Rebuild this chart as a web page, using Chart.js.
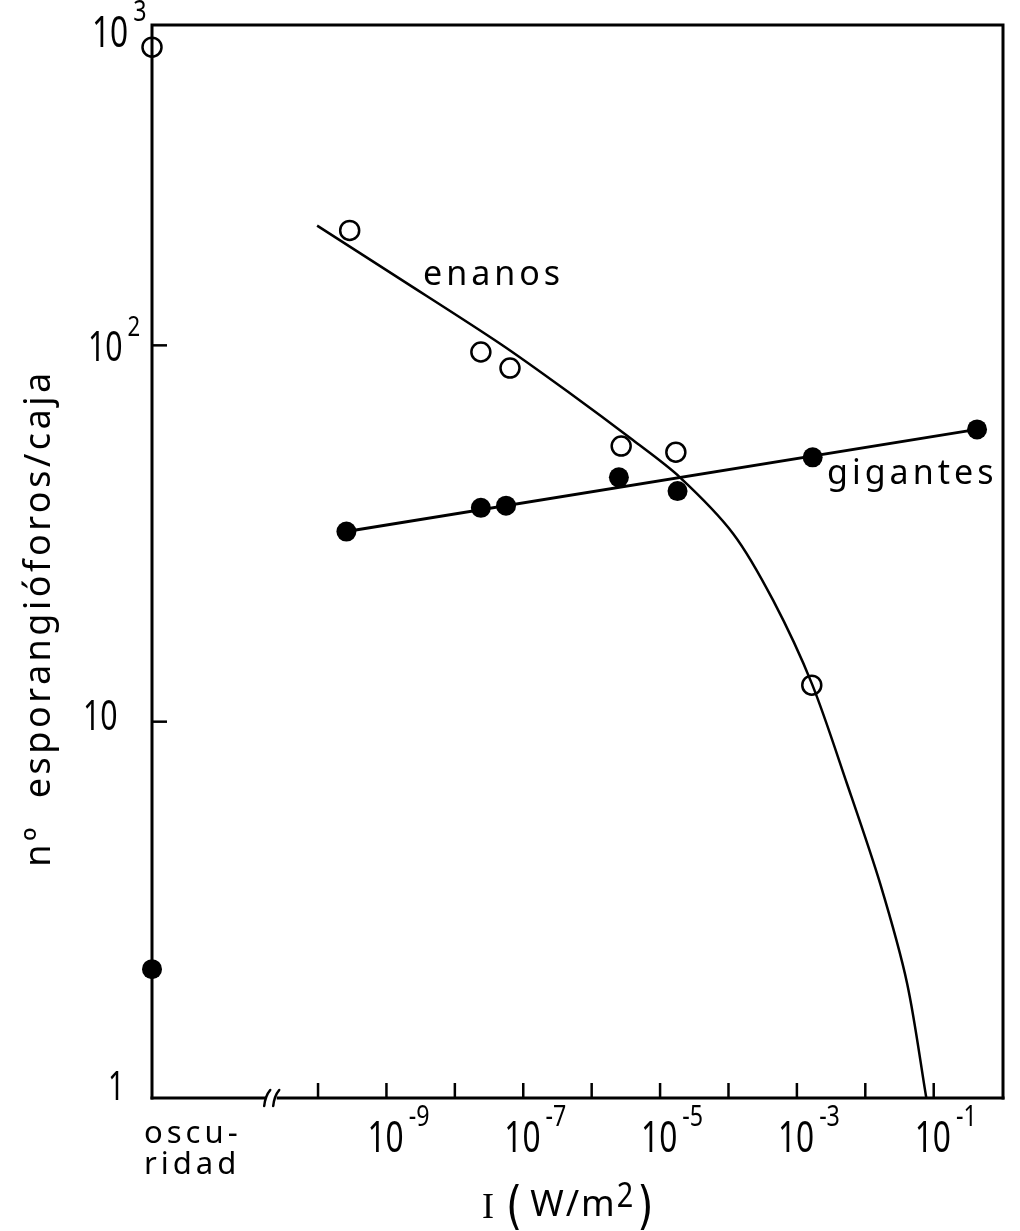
<!DOCTYPE html>
<html>
<head>
<meta charset="utf-8">
<script src="https://cdn.jsdelivr.net/npm/chart.js@4.4.1/dist/chart.umd.min.js"></script>
<style>
  html, body { margin: 0; background: #fff; }
  canvas { display: block; }
</style>
</head>
<body>
<canvas id="grafico" width="1020" height="1231"></canvas>
<script>
// ----------------------------------------------------------------
//  Datos (I en W/m2, n de esporangióforos por caja)
// ----------------------------------------------------------------
const enanosI   = [2.9e-10, 2.4e-8, 6.4e-8, 2.7e-6, 1.7e-5, 1.65e-3];
const enanosN   = [202, 96, 87, 54, 52, 12.5];
const gigantesI = [2.6e-10, 2.4e-8, 5.6e-8, 2.5e-6, 1.8e-5, 1.7e-3, 0.43];
const gigantesN = [32, 37, 37.5, 44.6, 41, 50.4, 59.8];

// valores en oscuridad (van sobre el eje y)
const oscuridadEnanos   = 620;
const oscuridadGigantes = 2.2;

// curva trazada a mano para enanos
const curvaI = [9.7e-11, 1.6e-9, 4.6e-8, 4.4e-7, 4.0e-6, 1.95e-5, 1.17e-4, 4.5e-4, 1.66e-3, 5.4e-3, 1.65e-2, 4.1e-2, 7.8e-2];
const curvaN = [208, 150, 101, 75.5, 56, 44.6, 31.6, 21, 12.6, 6.84, 3.71, 2.01, 1];

// recta ajustada para gigantes
const rectaI = [2.6e-10, 0.43];
const rectaN = [32, 59.8];

// ejes
const xMin = 3.74e-13;   // posición de "oscuridad"
const xMax = 1.03;
const xCorte = 2.0e-11;  // marca de corte //
const yMin = 1;
const yMax = 710;        // rotulado como 10^3
const xTickExps  = [-10, -9, -8, -7, -6, -5, -4, -3, -2, -1];
const xLabelExps = [-9, -7, -5, -3, -1];
const yTicks     = [10, 100];

const SANS = '"Noto Sans", "DejaVu Sans", sans-serif';
const NUM = 0.72; // compresión horizontal de las cifras

// ----------------------------------------------------------------
//  Texto con espaciado y compresión horizontal
// ----------------------------------------------------------------
function texto(ctx, str, x, y, size, opts = {}) {
  ctx.save();
  ctx.font = `${opts.weight || 400} ${size}px ${opts.family || SANS}`;
  ctx.letterSpacing = (opts.spacing || 0) + 'px';
  ctx.fillStyle = '#000';
  ctx.textBaseline = 'alphabetic';
  const sx = opts.sx || 1;
  const w = ctx.measureText(str).width * sx;
  let x0 = x;
  if (opts.align === 'center') x0 = x - w / 2;
  else if (opts.align === 'right') x0 = x - w;
  ctx.translate(x0, y);
  ctx.scale(sx, 1);
  ctx.textAlign = 'left';
  ctx.fillText(str, 0, 0);
  ctx.restore();
  return w;
}

// potencia de diez: "10" con el borde izquierdo en x, exponente elevado
function potencia(ctx, exp, x, y, size) {
  const w = texto(ctx, '10', x, y, size, { sx: NUM });
  texto(ctx, exp, x + w + 5, y - size * 0.6, size * 0.66, { sx: NUM + 0.08 });
}

const marcoPlugin = {
  id: 'marco',
  beforeDatasetsDraw(chart) {
    const { ctx, chartArea: a, scales: { x, y } } = chart;
    ctx.save();
    ctx.strokeStyle = '#000';
    ctx.lineWidth = 3;
    ctx.lineCap = 'square';

    // eje izquierdo, borde superior y derecho
    ctx.beginPath();
    ctx.moveTo(a.left, a.bottom);
    ctx.lineTo(a.left, a.top);
    ctx.lineTo(a.right, a.top);
    ctx.lineTo(a.right, a.bottom);
    ctx.stroke();

    // eje inferior con corte
    const xc = x.getPixelForValue(xCorte);
    ctx.beginPath();
    ctx.moveTo(a.left, a.bottom);
    ctx.lineTo(xc - 6, a.bottom);
    ctx.moveTo(xc + 8, a.bottom);
    ctx.lineTo(a.right, a.bottom);
    ctx.stroke();
    ctx.lineWidth = 2.5;
    ctx.lineCap = 'round';
    [-3, 6].forEach(d => {
      ctx.beginPath();
      ctx.moveTo(xc + d - 3, a.bottom + 8);
      ctx.quadraticCurveTo(xc + d - 2, a.bottom - 2, xc + d + 3, a.bottom - 8);
      ctx.stroke();
    });

    // marcas
    ctx.lineWidth = 2.5;
    ctx.lineCap = 'butt';
    xTickExps.forEach(e => {
      const px = x.getPixelForValue(Math.pow(10, e));
      ctx.beginPath();
      ctx.moveTo(px, a.bottom);
      ctx.lineTo(px, a.bottom - 15);
      ctx.stroke();
    });
    yTicks.forEach(v => {
      const py = y.getPixelForValue(v);
      ctx.beginPath();
      ctx.moveTo(a.left, py);
      ctx.lineTo(a.left + 15, py);
      ctx.stroke();
    });
    ctx.restore();
  },
  afterDraw(chart) {
    const { ctx, chartArea: a, scales: { x, y } } = chart;

    // rótulos del eje x
    xLabelExps.forEach(e => {
      const px = x.getPixelForValue(Math.pow(10, e));
      potencia(ctx, '-' + Math.abs(e), px - 19, a.bottom + 54, 44);
    });
    texto(ctx, 'oscu-', a.left - 8, a.bottom + 45, 31, { spacing: 4 });
    texto(ctx, 'ridad', a.left - 8, a.bottom + 76, 31, { spacing: 4 });

    // rótulos del eje y
    potencia(ctx, '2', a.left - 64, y.getPixelForValue(100) + 16, 42);
    texto(ctx, '10', a.left - 69, y.getPixelForValue(10) + 8, 42, { sx: NUM });
    texto(ctx, '1', a.left - 44, y.getPixelForValue(1) + 2, 40, { sx: NUM });
    potencia(ctx, '3', a.left - 60, a.top + 22, 44);

    // título eje y
    ctx.save();
    ctx.translate(50, 618);
    ctx.rotate(-Math.PI / 2);
    texto(ctx, 'nº  esporangióforos/caja', 0, 0, 36, { align: 'center', spacing: 3.5 });
    ctx.restore();

    // título eje x: I ( W/m2)
    let cx = 482;
    cx += texto(ctx, 'I', cx, 1218, 36, { family: '"Liberation Serif", serif' }) + 12;
    cx += texto(ctx, '(', cx, 1223, 52, { family: '"DejaVu Sans", sans-serif', sx: 0.8 }) + 8;
    cx += texto(ctx, 'W/m', cx, 1216, 36, { spacing: 2 });
    cx += texto(ctx, '2', cx, 1207, 34, { sx: 0.85 }) + 4;
    texto(ctx, ')', cx, 1223, 52, { family: '"DejaVu Sans", sans-serif', sx: 0.8 });

    // nombres de las series
    texto(ctx, 'enanos', 423, 285, 34, { spacing: 4 });
    texto(ctx, 'gigantes', 827, 484, 34, { spacing: 4 });
  }
};

const pares = (xs, ys) => xs.map((v, i) => ({ x: v, y: ys[i] }));

new Chart(document.getElementById('grafico'), {
  type: 'scatter',
  data: {
    datasets: [
      {
        label: 'curva enanos',
        data: pares(curvaI, curvaN),
        showLine: true,
        borderColor: '#000',
        borderWidth: 2.5,
        pointRadius: 0,
        tension: 0.3,
        fill: false
      },
      {
        label: 'recta gigantes',
        data: pares(rectaI, rectaN),
        showLine: true,
        borderColor: '#000',
        borderWidth: 3,
        pointRadius: 0,
        fill: false
      },
      {
        label: 'enanos',
        data: [{ x: xMin, y: oscuridadEnanos }, ...pares(enanosI, enanosN)],
        pointRadius: 9.5,
        pointBorderWidth: 2.5,
        pointBorderColor: '#000',
        pointBackgroundColor: 'rgba(255,255,255,0)',
        clip: false
      },
      {
        label: 'gigantes',
        data: [{ x: xMin, y: oscuridadGigantes }, ...pares(gigantesI, gigantesN)],
        pointRadius: 10,
        pointBorderWidth: 0,
        pointBackgroundColor: '#000',
        clip: false
      }
    ]
  },
  options: {
    responsive: false,
    animation: false,
    layout: { padding: { left: 152, top: 25, right: 17, bottom: 133 } },
    plugins: { legend: { display: false }, tooltip: { enabled: false } },
    scales: {
      x: { type: 'logarithmic', min: xMin, max: xMax, bounds: 'data', display: false },
      y: { type: 'logarithmic', min: yMin, max: yMax, bounds: 'data', display: false }
    }
  },
  plugins: [marcoPlugin]
});
</script>
</body>
</html>
